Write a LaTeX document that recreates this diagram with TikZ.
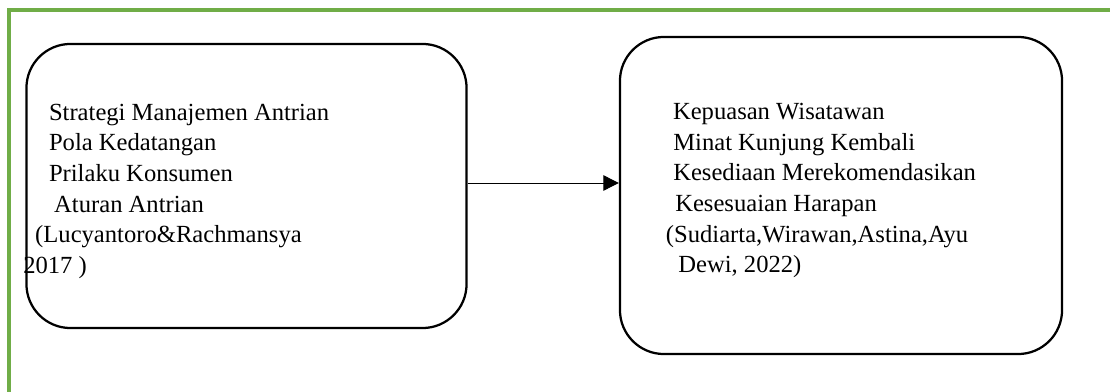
\documentclass[tikz,border=0pt]{standalone}
\usepackage{fontspec}
\setmainfont{Liberation Serif}
\usepackage{amsmath}
\usetikzlibrary{arrows.meta,shapes}
\definecolor{framegreen}{RGB}{112,173,71}

\begin{document}
\begin{tikzpicture}[x=0.025cm,y=-0.025cm]
\tikzstyle{varbox}=[draw,rounded corners=1.1cm,line width=1.6pt,inner sep=0pt]
\tikzstyle{vartext}=[anchor=north west,align=left,inner sep=0pt,font=\fontsize{17.5}{21.8}\selectfont]
\useasboundingbox (0,0) rectangle (1110,392);
\draw[framegreen,line width=2.2pt] (9,400) -- (9,10) -- (1120,10);
\node[varbox,minimum width=11cm,minimum height=7.1cm] (lbox) at (246.5,186) {};
\node[varbox,minimum width=11.05cm,minimum height=7.925cm] (rbox) at (841,195.5) {};
\node[vartext] (ltext) at (23,103.5) {\hspace*{18.3pt}Strategi Manajemen Antrian\\
 \hspace*{18.3pt}Pola Kedatangan\\
 \hspace*{18.3pt}Prilaku Konsumen\\
 \hspace*{22pt}Aturan Antrian\\
 \hspace*{8.5pt}(Lucyantoro\&Rachmansya\\
 2017 )};
\node[vartext] (rtext) at (665.7,103) {\hspace*{5pt}Kepuasan Wisatawan\\
 \hspace*{5.2pt}Minat Kunjung Kembali\\
 \hspace*{5.2pt}Kesediaan Merekomendasikan\\
 \hspace*{6.6pt}Kesesuaian Harapan\\
 (Sudiarta,Wirawan,Astina,Ayu\\
 \hspace*{8.8pt}Dewi, 2022)};
\coordinate (mid) at (0,183);
\draw[-{Triangle[length=11pt,width=11pt]},line width=0.7pt] (lbox.east |- mid) -- (rbox.west |- mid);
\end{tikzpicture}
\end{document}
